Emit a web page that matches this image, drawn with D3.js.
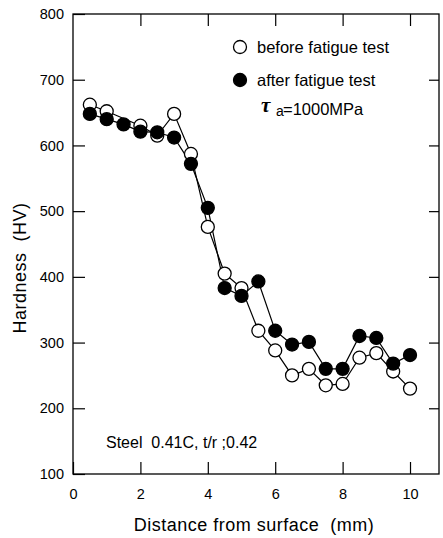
<!DOCTYPE html>
<html><head><meta charset="utf-8">
<script src="https://cdn.jsdelivr.net/npm/d3@7"></script>
<style>
html,body{margin:0;padding:0;background:#fff;}
svg{display:block;font-family:"Liberation Sans",Arial,sans-serif;}
text{white-space:pre;}
</style></head>
<body>
<svg id="chart" width="443" height="538"></svg>
<script>
// distance from surface (mm)
const beforeX = [0.5, 1, 2, 2.5, 3, 3.5, 4, 4.5, 5, 5.5, 6, 6.5, 7, 7.5, 8, 8.5, 9, 9.5, 10];
const beforeHV = [662, 652, 630, 615, 648, 587, 476, 405, 383, 318, 288, 250, 260, 235, 237, 277, 284, 256, 230];
const afterX = [0.5, 1, 1.5, 2, 2.5, 3, 3.5, 4, 4.5, 5, 5.5, 6, 6.5, 7, 7.5, 8, 8.5, 9, 9.5, 10];
const afterHV = [648, 640, 632, 621, 620, 612, 572, 505, 383, 371, 393, 318, 297, 301, 260, 260, 310, 307, 268, 281];
const xTicks = [0, 2, 4, 6, 8, 10];
const yTicks = [100, 200, 300, 400, 500, 600, 700, 800];
const legendLabels = ["before fatigue test", "after fatigue test"];
const xTitle = "Distance from surface  (mm)";
const yTitle = "Hardness  (HV)";
const noteText = "Steel  0.41C, t/r ;0.42";

const svg = d3.select("#chart");
const L = 73, R = 439, T = 14, B = 474;
const x = d3.scaleLinear().domain([0, 10.86]).range([L, R]);
const y = d3.scaleLinear().domain([100, 800]).range([B, T]);

function styleAxis(g, showLabels) {
  g.select(".domain").remove();
  g.selectAll(".tick line").attr("stroke", "#000").attr("stroke-width", 1.2);
  g.selectAll(".tick text").attr("fill", "#000").style("font-size", "14.5px")
    .style("font-family", "'Liberation Sans',Arial,sans-serif");
  if (!showLabels) g.selectAll(".tick text").remove();
}

svg.append("g").attr("transform", `translate(0,${B})`)
  .call(d3.axisBottom(x).tickValues(xTicks).tickSize(-12).tickSizeOuter(0).tickPadding(15).tickFormat(d3.format("d")))
  .call(g => styleAxis(g, true));
svg.append("g").attr("transform", `translate(0,${T})`)
  .call(d3.axisTop(x).tickValues(xTicks.filter(d => d > 0)).tickSize(-12).tickSizeOuter(0))
  .call(g => styleAxis(g, false));
svg.append("g").attr("transform", `translate(${L},0)`)
  .call(d3.axisLeft(y).tickValues(yTicks).tickSize(-12).tickSizeOuter(0).tickPadding(9).tickFormat(d3.format("d")))
  .call(g => styleAxis(g, true));
svg.append("g").attr("transform", `translate(${R},0)`)
  .call(d3.axisRight(y).tickValues(yTicks.filter(d => d > 100 && d < 800)).tickSize(-10).tickSizeOuter(0))
  .call(g => styleAxis(g, false));

svg.append("rect").attr("x", L).attr("y", T).attr("width", R - L).attr("height", B - T)
  .attr("fill", "none").attr("stroke", "#000").attr("stroke-width", 1.3);

const line = d3.line().x(d => x(d[0])).y(d => y(d[1]));
const before = beforeX.map((v, i) => [v, beforeHV[i]]);
const after = afterX.map((v, i) => [v, afterHV[i]]);

svg.append("path").datum(before).attr("d", line).attr("fill", "none").attr("stroke", "#000").attr("stroke-width", 1.2);
svg.append("path").datum(after).attr("d", line).attr("fill", "none").attr("stroke", "#000").attr("stroke-width", 1.2);

const r = 6.5;
svg.append("g").selectAll("circle").data(before).join("circle")
  .attr("cx", d => x(d[0])).attr("cy", d => y(d[1])).attr("r", r)
  .attr("fill", "#fff").attr("stroke", "#000").attr("stroke-width", 1.3);
svg.append("g").selectAll("circle").data(after).join("circle")
  .attr("cx", d => x(d[0])).attr("cy", d => y(d[1])).attr("r", r)
  .attr("fill", "#000").attr("stroke", "#000").attr("stroke-width", 1.3);

// legend
const leg = svg.append("g").style("font-size", "16.5px");
[[47, "#fff"], [80, "#000"]].forEach((p, i) => {
  leg.append("circle").attr("cx", 240).attr("cy", p[0]).attr("r", r)
    .attr("fill", p[1]).attr("stroke", "#000").attr("stroke-width", 1.3);
  leg.append("text").attr("x", 257).attr("y", p[0] + 6).attr("fill", "#000").text(legendLabels[i]);
});
leg.append("text").attr("x", 261).attr("y", 112).attr("fill", "#000")
  .style("font-family", "'Liberation Serif','DejaVu Serif',serif")
  .style("font-weight", "bold").style("font-style", "italic").style("font-size", "21px").text("τ");
leg.append("text").attr("x", 276).attr("y", 116).attr("fill", "#000").style("font-size", "14px").text("a");
leg.append("text").attr("x", 283).attr("y", 115).attr("fill", "#000").text("=1000MPa");

svg.append("text").attr("x", 106).attr("y", 448).attr("fill", "#000").style("font-size", "16px").text(noteText);

svg.append("text").attr("x", 254).attr("y", 531).attr("text-anchor", "middle").attr("fill", "#000")
  .style("font-size", "18px").style("letter-spacing", "0.5px").text(xTitle);
svg.append("text").attr("transform", "translate(26,268) rotate(-90)").attr("text-anchor", "middle").attr("fill", "#000")
  .style("font-size", "18px").style("letter-spacing", "0.5px").text(yTitle);
</script>
</body></html>
